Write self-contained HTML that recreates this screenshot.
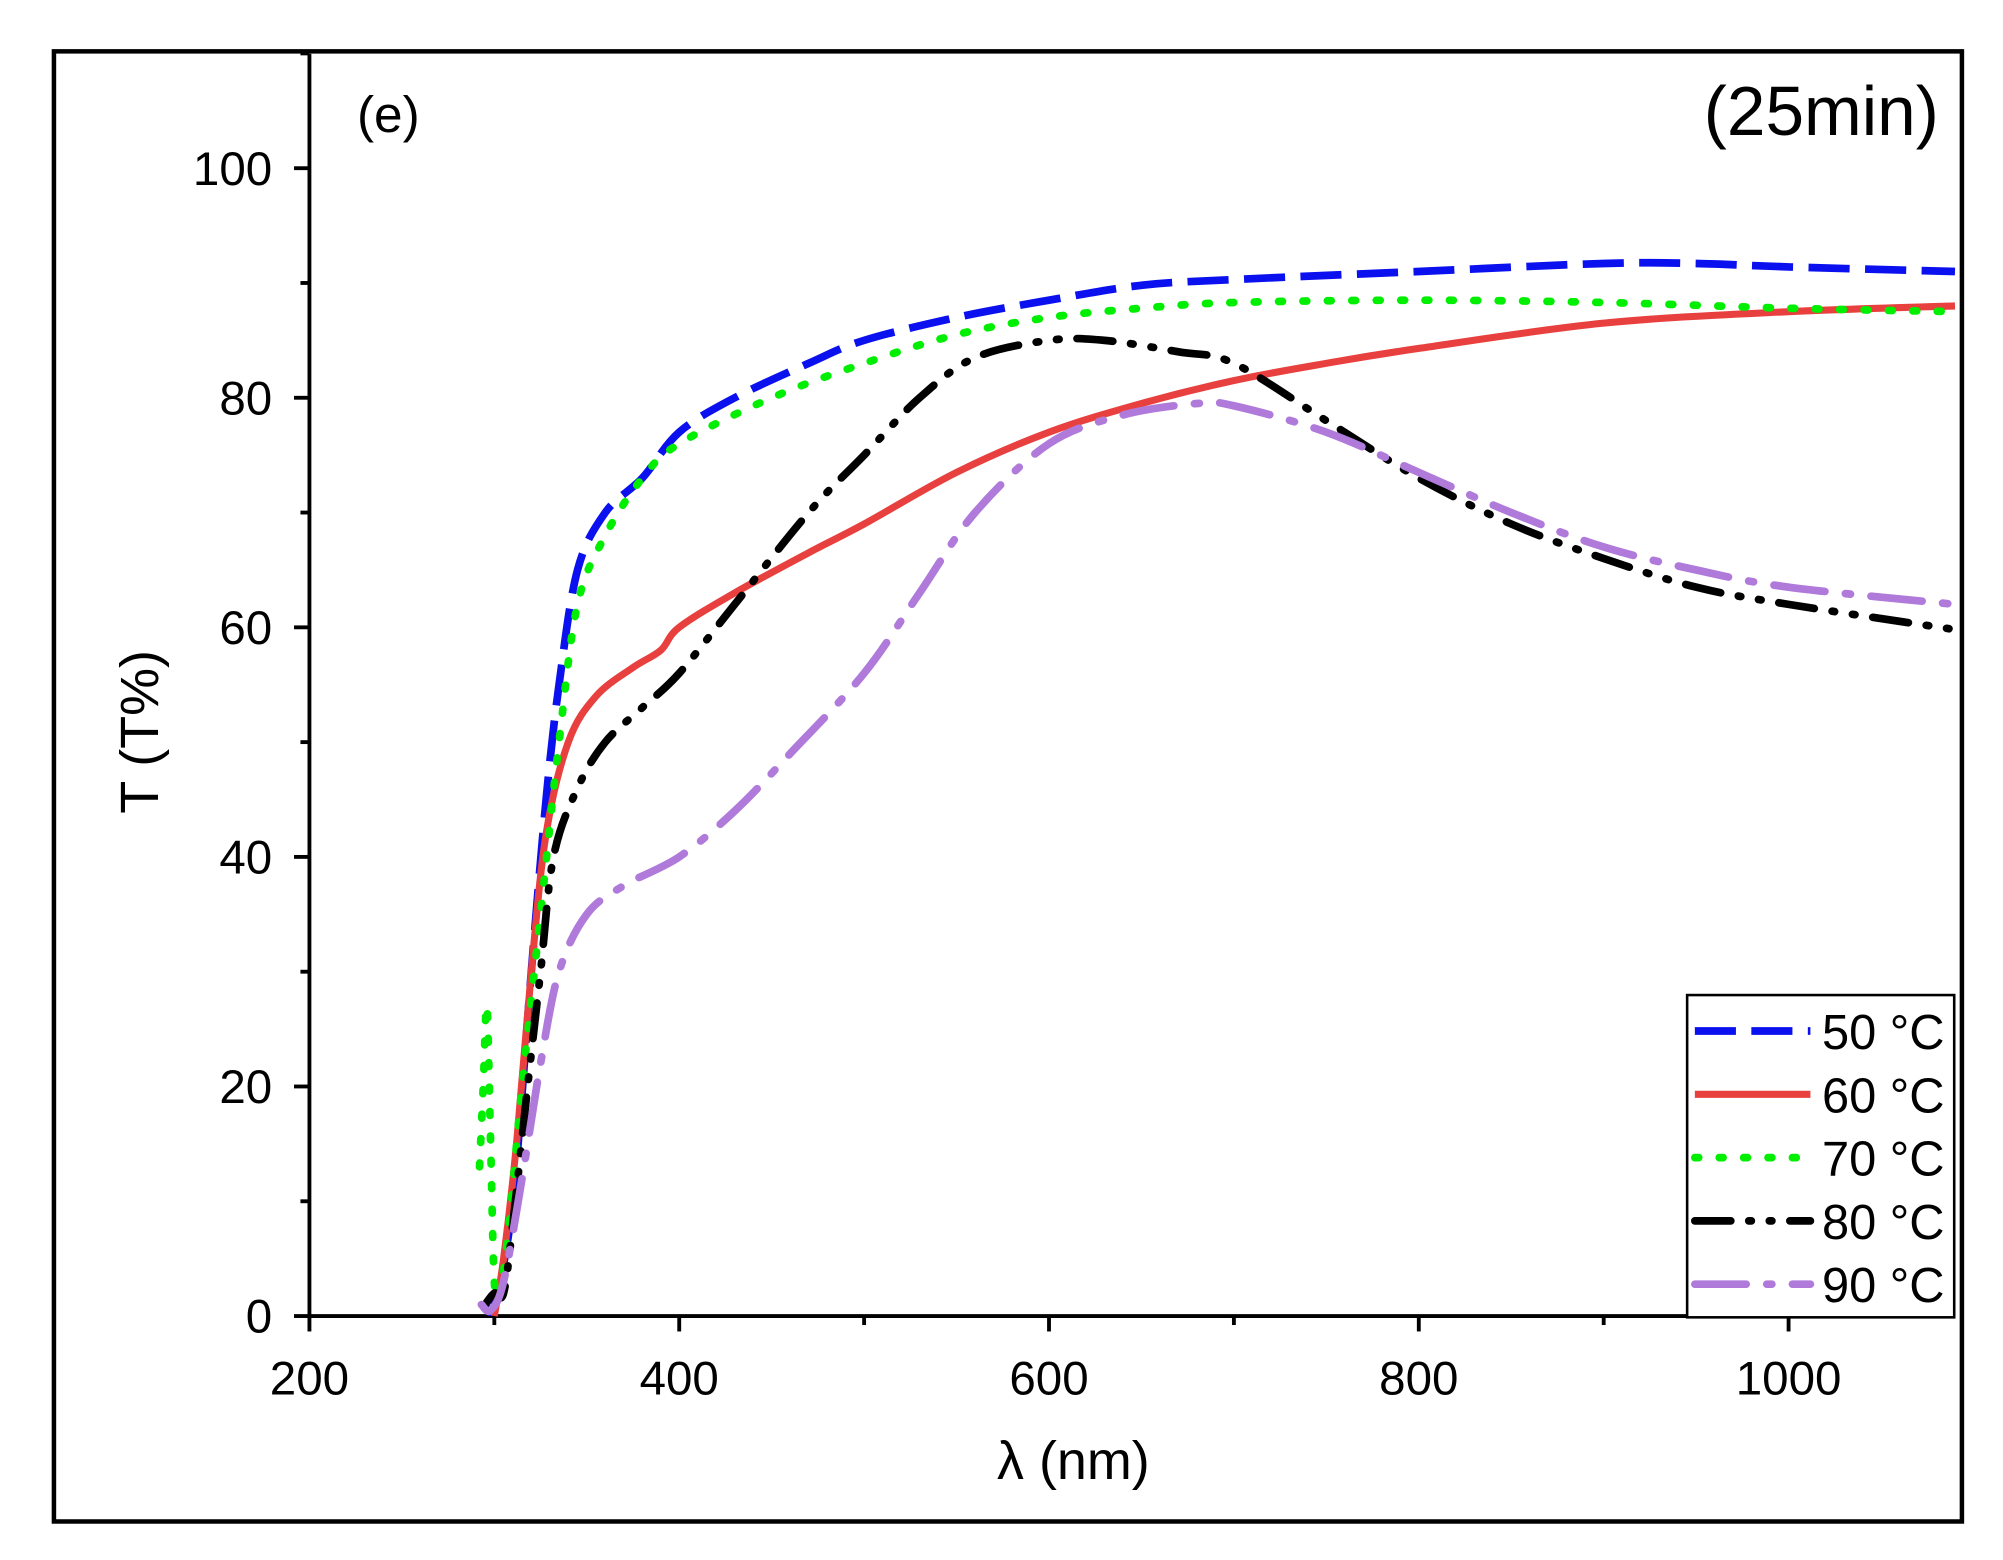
<!DOCTYPE html>
<html><head><meta charset="utf-8">
<style>html,body{margin:0;padding:0;background:#fff}svg{display:block}</style>
</head><body>
<svg id="s" width="2003" height="1560" viewBox="0 0 1560 1215" preserveAspectRatio="none" xmlns="http://www.w3.org/2000/svg" font-family="Liberation Sans, Arial, sans-serif">
<rect x="0" y="0" width="1560" height="1215" fill="#fff"/>
<rect x="42" y="40" width="1486" height="1145" fill="none" stroke="#000" stroke-width="3.5"/>
<g id="ax" stroke="#000" stroke-width="3" fill="none"></g>
<g id="tl" font-size="37" fill="#000"></g>
<g id="cv" fill="none" stroke-linejoin="round"></g>
<text x="836" y="1152" font-size="42" text-anchor="middle">λ (nm)</text>
<text transform="translate(123,570) rotate(-90)" font-size="42" text-anchor="middle">T (T%)</text>
<text x="278" y="103" font-size="40">(e)</text>
<text x="1510" y="105" font-size="54" text-anchor="end">(25min)</text>
<rect x="1314" y="775" width="208" height="251" fill="#fff" stroke="#000" stroke-width="2"/>
<g id="lg"></g>
</svg>
<script>
const NS="http://www.w3.org/2000/svg";
const X=v=>241+(v-200)*1.44, Y=v=>1025-v*8.94;
function el(p,t,a,txt){const e=document.createElementNS(NS,t);for(const k in a)e.setAttribute(k,a[k]);if(txt!=null)e.textContent=txt;document.getElementById(p).appendChild(e);return e;}
el('ax','line',{x1:241,y1:1025,x2:1523,y2:1025});
el('ax','line',{x1:241,y1:42,x2:241,y2:1025});
for(let v=200;v<=1090;v+=100){const maj=v%200==0;el('ax','line',{x1:X(v),y1:1025,x2:X(v),y2:1025+(maj?12:7)});if(maj)el('tl','text',{x:X(v),y:1086,'text-anchor':'middle'},String(v));}
for(let v=0;v<=110;v+=10){const maj=v%20==0;el('ax','line',{x1:241,y1:Y(v),x2:241-(maj?12:7),y2:Y(v)});if(maj)el('tl','text',{x:212,y:Y(v)+13,'text-anchor':'end'},String(v));}
const S=[
{c:'#0a10ee',d:'32 12',cap:'butt',w:6,p:[[295,1],[300,1],[310,10],[320,30],[328,45],[335,55],[345,65],[360,70],[380,73],[400,77],[430,80],[470,83],[500,85],[550,87],[600,88.5],[650,89.8],[700,90.3],[800,91],[900,91.7],[950,91.7],[1000,91.4],[1090,91]]},
{c:'#e8403e',d:'none',cap:'butt',w:5.5,p:[[300,0],[305,5],[312,15],[320,30],[328,42],[340,50],[355,54],[375,56.5],[390,58],[400,60],[430,63],[470,66.5],[500,69],[550,73.5],[600,77],[650,79.5],[700,81.5],[750,83],[800,84.3],[900,86.5],[1000,87.5],[1090,88]]},
{c:'#00ee00',d:'3 16',cap:'round',w:6,p:[[292,13],[294,20],[296,27],[298,15],[300,3],[303,2],[308,8],[315,20],[325,35],[335,50],[345,62],[360,68],[380,73],[400,76],[450,80],[500,83],[550,85.5],[600,87],[650,87.8],[700,88.3],[800,88.5],[900,88.3],[1000,87.8],[1090,87.5]]},
{c:'#000',d:'28 14 2 14 2 14',cap:'round',w:6,p:[[295,1],[300,2],[305,2],[310,8],[318,20],[325,30],[332,40],[345,46],[360,50],[380,53],[400,56],[430,62],[470,70],[500,75],[530,80],[560,83.5],[600,85],[630,85],[670,84],[700,83],[750,78],[800,73],[850,69],[900,66],[950,63.5],[1000,62],[1090,59.8]]},
{c:'#b07adb',d:'40 16 4 16',cap:'round',w:6,p:[[293,1],[298,0.5],[305,3],[315,12],[325,22],[335,30],[350,35],[370,37.5],[400,40],[430,44],[460,49],[500,56],[530,63],[560,70],[600,76],[640,78.5],[680,79.5],[700,79.3],[750,77],[800,73.5],[850,70],[900,67],[950,65],[1000,63.5],[1090,62]]}];
const names=['50 °C','60 °C','70 °C','80 °C','90 °C'];
S.forEach((s,i)=>{
 const pts=s.p.map(q=>[X(q[0]),Y(q[1])]);
 let d='M'+pts[0][0]+','+pts[0][1];
 for(let k=1;k<pts.length;k++){const p0=pts[k-2]||pts[k-1],p1=pts[k-1],p2=pts[k],p3=pts[k+1]||p2;
  d+=' C'+(p1[0]+(p2[0]-p0[0])/6)+','+(p1[1]+(p2[1]-p0[1])/6)+' '+(p2[0]-(p3[0]-p1[0])/6)+','+(p2[1]-(p3[1]-p1[1])/6)+' '+p2[0]+','+p2[1];}
 const a={d:d,stroke:s.c,'stroke-width':s.w,'stroke-linecap':s.cap};if(s.d!='none')a['stroke-dasharray']=s.d;
 el('cv','path',a);
 const y=803+i*49.3;
 const b={x1:1320,y1:y,x2:1410,y2:y,stroke:s.c,'stroke-width':s.w,'stroke-linecap':s.cap};if(s.d!='none')b['stroke-dasharray']=s.d;
 el('lg','line',b);
 el('lg','text',{x:1419,y:y+14,'font-size':38},names[i]);
});
</script>
</body></html>
